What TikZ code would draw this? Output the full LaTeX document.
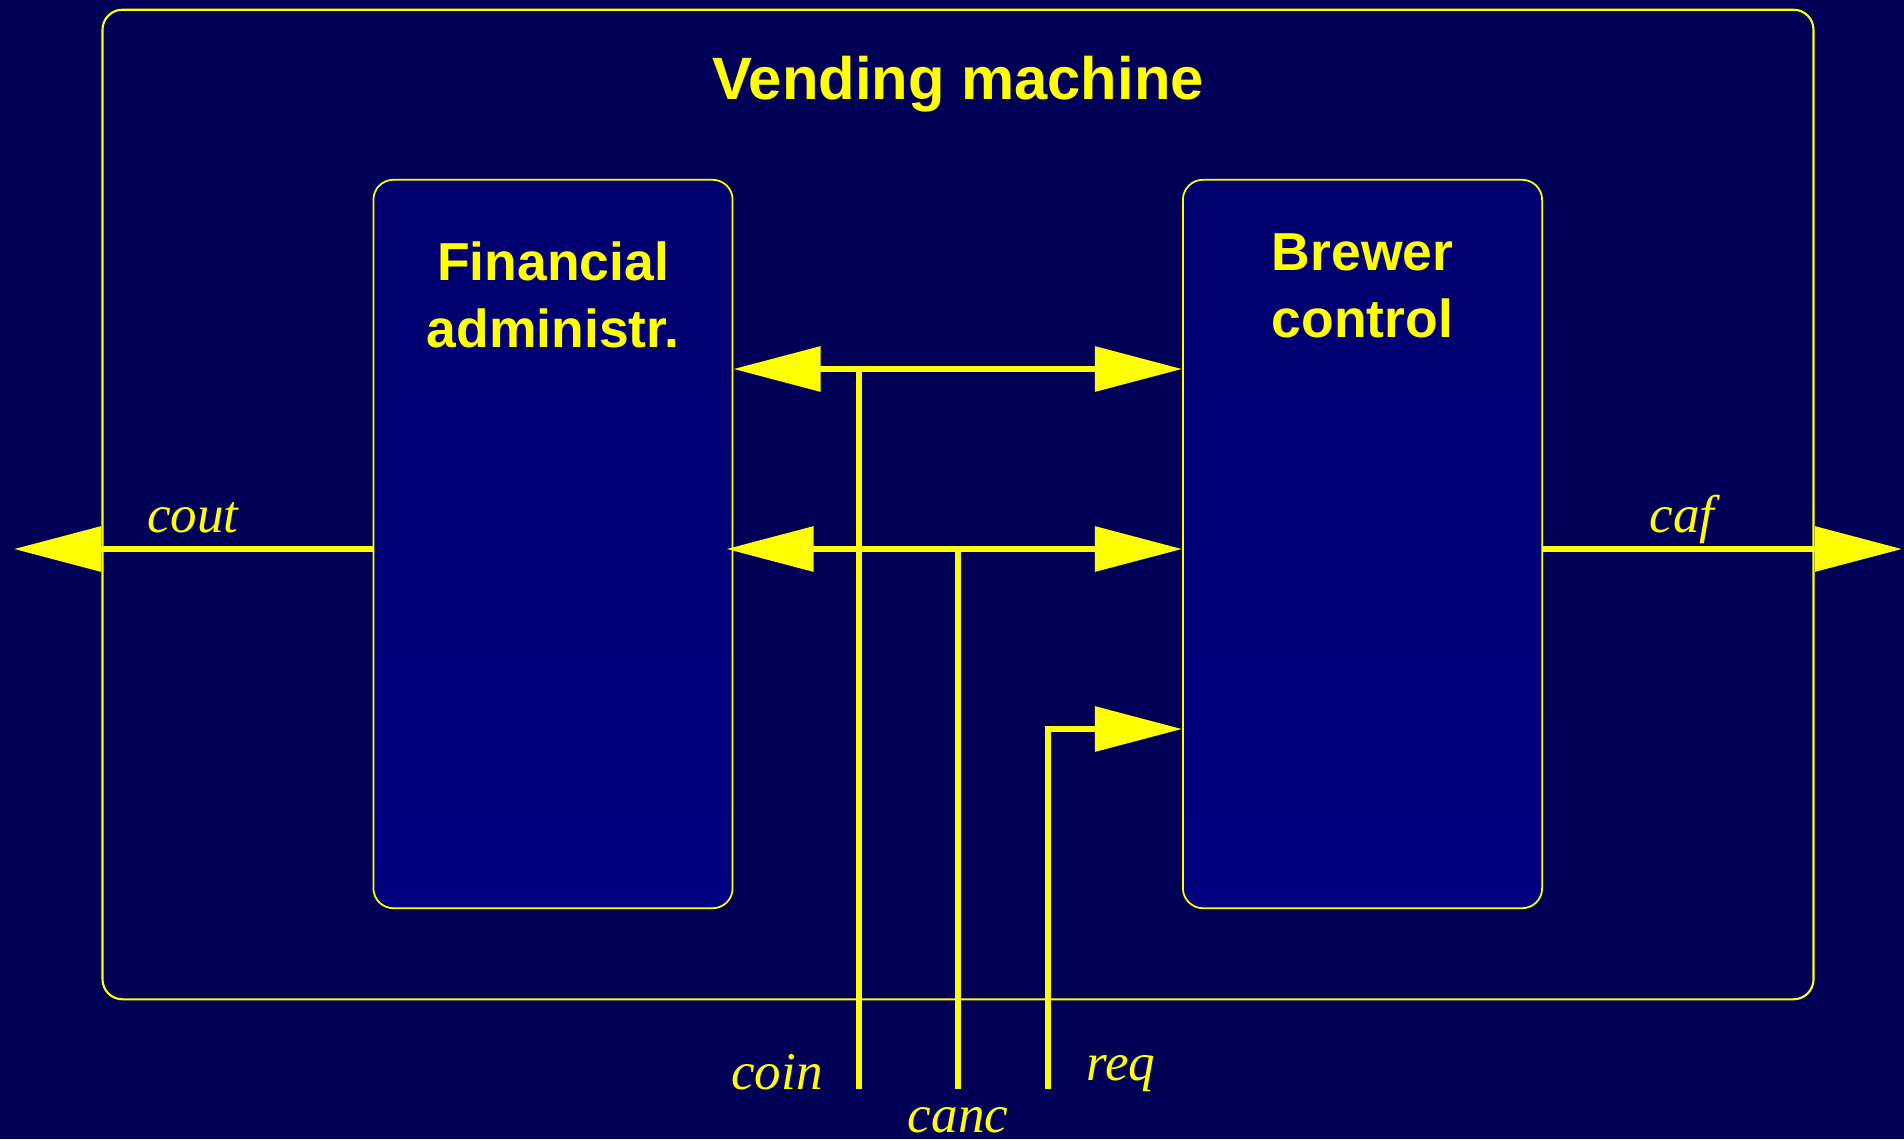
\documentclass[tikz,border=0pt]{standalone}
\usepackage{fontspec}
\setmainfont{Liberation Serif}
\setsansfont{Liberation Sans}
\usetikzlibrary{arrows.meta}
\definecolor{bgnavy}{RGB}{0,0,86}
\definecolor{boxtop}{RGB}{0,0,110}
\definecolor{boxbot}{RGB}{0,0,128}
\definecolor{sigyellow}{RGB}{255,255,0}
\tikzset{
  outerbox/.style={draw=sigyellow, line width=0.6pt, rounded corners=0.2cm},
  blockbox/.style={draw=sigyellow, line width=0.5pt, rounded corners=0.2cm,
    top color=boxtop, bottom color=boxbot, minimum width=3.59cm, minimum height=7.28cm},
  blocktext/.style={text=sigyellow, align=center, font=\sffamily\bfseries\fontsize{15.2}{18.9}\selectfont},
  sig/.style={text=sigyellow, font=\itshape\fontsize{15.1}{18}\selectfont, anchor=base, inner sep=1pt},
  wire/.style={draw=sigyellow, line width=1.7pt, >={Triangle[length=0.87cm, width=0.44cm]}}
}
\begin{document}
\begin{tikzpicture}[x=0.01cm, y=-0.01cm]
    \useasboundingbox (0,0) rectangle (1904,1139);
    \fill[bgnavy] (0,0) rectangle (1904,1139);
    \node[outerbox, minimum width=17.1cm, minimum height=9.89cm] (vm) at (958,504.5) {};
    \node[text=sigyellow, font=\sffamily\bfseries\fontsize{17}{20}\selectfont, anchor=base] (vmtitle) at (958,99.5) {Vending machine};
    \node[blockbox] (fin) at (553,544) {};
    \node[blockbox] (brew) at (1362.5,544) {};
    \node[blocktext] (fintext) at (553,295) {Financial\\administr.};
    \node[blocktext] (brewtext) at (1362.5,286) {Brewer\\control};
    \coordinate (upper) at (0,369);
    \coordinate (middle) at (0,549);
    \coordinate (lower) at (0,729);
    \coordinate (coinfoot) at (859,1089);
    \coordinate (cancfoot) at (958,1089);
    \coordinate (reqfoot) at (1048,1089);
    \coordinate (couttip) at (14,549);
    \coordinate (caftip) at (1902,549);
    \draw[wire,<->] (fin.east |- upper) -- (brew.west |- upper);
    \draw[wire,<->] ([xshift=-0.07cm]fin.east |- middle) -- (brew.west |- middle);
    \draw[wire] (coinfoot) -- (coinfoot |- upper);
    \draw[wire] (cancfoot) -- (cancfoot |- middle);
    \draw[wire,->] (reqfoot) |- (brew.west |- lower);
    \draw[wire,->] (fin.west |- middle) -- (couttip);
    \draw[wire,->] (brew.east |- middle) -- (caftip);
    \node[sig] (cout) at (193,532) {cout};
    \node[sig] (caf) at (1682,532) {caf};
    \node[sig] (coin) at (777,1089) {coin};
    \node[sig] (canc) at (958,1132) {canc};
    \node[sig] (req) at (1121,1080) {req};
  \end{tikzpicture}
\end{document}
